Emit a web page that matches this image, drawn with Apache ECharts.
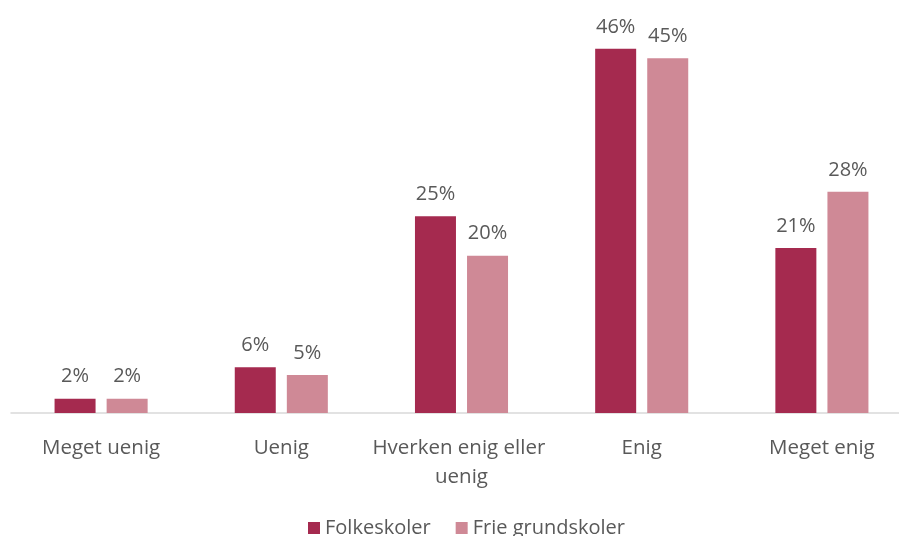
<!DOCTYPE html>
<html><head><meta charset="utf-8">
<script src="https://cdn.jsdelivr.net/npm/echarts@6/dist/echarts.min.js"></script>
<style>html,body{margin:0;padding:0;background:#fff}#c{width:899px;height:536px}</style>
</head><body><div id="c"></div>
<script>
const categories = ["Meget uenig", "Uenig", "Hverken enig eller uenig", "Enig", "Meget enig"];
const folkeskoler = [1.8, 5.8, 24.9, 46.1, 20.9];
const frieGrundskoler = [1.8, 4.8, 19.9, 44.9, 28.0];
const seriesNames = ["Folkeskoler", "Frie grundskoler"];
const colors = ["#A52A4F", "#CF8996"];
const FONT = '"Open Sans", "Noto Sans", sans-serif';

const chart = echarts.init(document.getElementById('c'));
const label = {
  show: true, position: 'top', distance: 12,
  color: '#595959', fontSize: 20, fontFamily: FONT,
  formatter: p => Math.round(p.value) + '%'
};
chart.setOption({
  animation: false,
  color: colors,
  grid: { left: 11, width: 901, top: 18, bottom: 123, containLabel: false, outerBoundsMode: 'none' },
  legend: {
    bottom: -7, left: 303, itemWidth: 12, itemHeight: 12, itemGap: 25, itemStyle: {},
    icon: 'rect',
    textStyle: { color: '#595959', fontSize: 20, fontFamily: FONT },
    data: seriesNames
  },
  xAxis: {
    type: 'category', data: categories,
    axisLine: { lineStyle: { color: '#D9D9D9', width: 1.5 } },
    axisTick: { show: false },
    axisLabel: { color: '#595959', fontSize: 20.5, fontFamily: FONT, margin: 21,
      lineHeight: 29, width: 195, overflow: 'break', interval: 0 }
  },
  yAxis: { type: 'value', min: 0, max: 50, show: false, splitLine: { show: false } },
  series: [
    { name: seriesNames[0], type: 'bar', data: folkeskoler, barWidth: 41, barGap: '27%', label: label },
    { name: seriesNames[1], type: 'bar', data: frieGrundskoler, barWidth: 41, barGap: '27%', label: label }
  ]
});
</script></body></html>
